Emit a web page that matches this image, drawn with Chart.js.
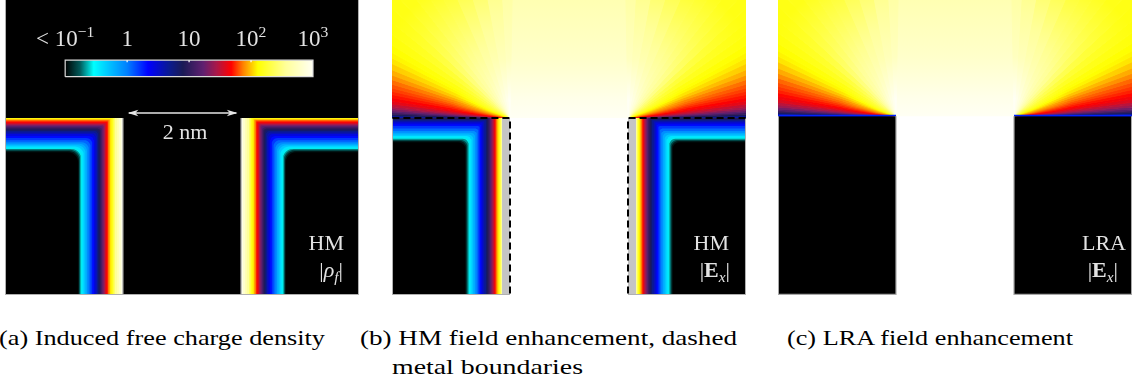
<!DOCTYPE html>
<html>
<head>
<meta charset="utf-8">
<script src="https://cdn.jsdelivr.net/npm/chart.js@4.4.1/dist/chart.umd.min.js"></script>
<style>
  body { margin: 0; width: 1134px; height: 383px; background: #fff; position: relative; overflow: hidden;
         font-family: "Liberation Serif", "Times New Roman", "DejaVu Serif", serif; }
  canvas { position: absolute; top: 0; }
  .t { position: absolute; white-space: nowrap; line-height: 1; color: #e2e2e2; font-size: 22px; }
  .t.big { font-size: 23px; }
  .t sup { font-size: 0.68em; vertical-align: 0; position: relative; top: -0.6em; }
  .t sub { font-size: 0.7em; vertical-align: 0; position: relative; top: 0.3em; }
  .cap { position: absolute; white-space: nowrap; line-height: 1; color: #000; font-size: 21px; transform-origin: 0 50%; }
</style>
</head>
<body>
<canvas id="panelA" width="354" height="295" style="left:5px"></canvas>
<canvas id="panelB" width="354" height="295" style="left:392px"></canvas>
<canvas id="panelC" width="354" height="295" style="left:778px"></canvas>
<script>
// colour scale of the figure (log10 of the field), black -> cyan -> blue -> red -> yellow -> white
const cmapLevels = [-1, -0.76, -0.54, -0.28, 0, 0.34, 0.68, 0.9, 1.23, 1.44, 1.68, 1.87, 2.11, 2.56, 3];
const cmapColors = ['#000000', '#005a5a', '#00ffff', '#00c0ff', '#0080ff', '#0000ff', '#0a1a90', '#1a1a55',
                    '#602070', '#a8184a', '#ff0000', '#ff8000', '#ffff00', '#ffff99', '#fffff4'];

const cbarTickLevels = [-1, 0, 1, 2, 3];
const cbarTickLabels = ['&lt; 10<sup>\u22121</sup>', '1', '10', '10<sup>2</sup>', '10<sup>3</sup>'];

// depth (nm) below the metal surface where each level is reached
const bandLevels = [3, 2.875, 2.75, 2.625, 2.5, 2.375, 2.25, 2.125, 2, 1.875, 1.75, 1.625, 1.5, 1.375, 1.25, 1.125, 1,
                    0.875, 0.75, 0.625, 0.5, 0.375, 0.25, 0.125, 0, -0.125, -0.25, -0.375, -0.5, -0.625, -0.75, -0.875, -1];
const rhoSideDepth = [0, 0.035, 0.07, 0.10, 0.135, 0.15, 0.17, 0.195, 0.22, 0.24, 0.255, 0.28, 0.305, 0.32, 0.34, 0.36, 0.38,
                      0.40, 0.42, 0.44, 0.465, 0.49, 0.52, 0.55, 0.58, 0.61, 0.635, 0.665, 0.695, 0.715, 0.73, 0.745, 0.76];
const rhoTopDepth  = [0, 0, 0, 0, 0, 0, 0, 0.01, 0.025, 0.04, 0.06, 0.08, 0.10, 0.118, 0.135, 0.158, 0.18,
                      0.20, 0.22, 0.245, 0.27, 0.305, 0.34, 0.375, 0.41, 0.435, 0.46, 0.485, 0.51, 0.525, 0.54, 0.56, 0.58];
const hmSideDepth  = [0.135, 0.135, 0.135, 0.138, 0.145, 0.157, 0.17, 0.19, 0.21, 0.228, 0.245, 0.262, 0.28, 0.30, 0.32, 0.342, 0.365,
                      0.385, 0.405, 0.432, 0.46, 0.485, 0.51, 0.535, 0.56, 0.59, 0.62, 0.65, 0.68, 0.70, 0.72, 0.738, 0.755];
const hmTopDepth   = [0, 0, 0, 0, 0, 0, 0, 0, 0, 0, 0, 0, 0, 0, 0, 0, 0,
                      0.015, 0.034, 0.055, 0.076, 0.105, 0.136, 0.178, 0.22, 0.25, 0.28, 0.305, 0.33, 0.352, 0.373, 0.39, 0.41];

// field above the metal, seen from each corner: angle from the surface (deg) and level at 3 radii (nm)
const fanAngles = [0, 0.75, 1.5, 2.25, 3, 4, 5, 6, 7.5, 9, 10.5, 12, 13.5, 15, 17, 19, 21, 23.5, 26, 28, 30,
                   33.5, 37, 41, 45, 49.5, 54, 58.5, 63, 69.5, 76, 83, 90];
const fanRadii = [0.3, 1.0, 2.5];
const hmFanInner = [0.5, 0.8, 1.05, 1.2, 1.35, 1.47, 1.58, 1.64, 1.72, 1.78, 1.83, 1.88, 1.93, 1.97, 2.02, 2.08, 2.12,
                    2.18, 2.24, 2.27, 2.3, 2.36, 2.42, 2.48, 2.55, 2.63, 2.7, 2.76, 2.82, 2.87, 2.92, 2.96, 3.0];
const hmFanMid   = [0.4, 0.7, 0.95, 1.1, 1.25, 1.37, 1.48, 1.55, 1.64, 1.69, 1.73, 1.77, 1.81, 1.85, 1.89, 1.95, 2.01,
                    2.06, 2.1, 2.13, 2.16, 2.22, 2.28, 2.36, 2.45, 2.51, 2.55, 2.58, 2.6, 2.64, 2.68, 2.72, 2.75];
const hmFanOuter = [0.3, 0.6, 0.85, 1.0, 1.15, 1.28, 1.4, 1.48, 1.58, 1.64, 1.69, 1.72, 1.75, 1.78, 1.82, 1.88, 1.94,
                    2.0, 2.05, 2.08, 2.1, 2.13, 2.15, 2.16, 2.17, 2.18, 2.2, 2.21, 2.22, 2.28, 2.35, 2.45, 2.55];
const lraFanInner = [0.4, 0.72, 1.0, 1.16, 1.32, 1.45, 1.56, 1.62, 1.7, 1.77, 1.82, 1.87, 1.92, 1.96, 2.01, 2.08, 2.12,
                     2.18, 2.24, 2.27, 2.3, 2.36, 2.42, 2.48, 2.55, 2.63, 2.7, 2.76, 2.82, 2.87, 2.92, 2.96, 3.0];
const lraFanMid   = [0.3, 0.62, 0.9, 1.06, 1.2, 1.34, 1.45, 1.53, 1.62, 1.68, 1.72, 1.76, 1.8, 1.84, 1.88, 1.94, 2.0,
                     2.06, 2.1, 2.13, 2.16, 2.22, 2.28, 2.36, 2.45, 2.51, 2.55, 2.58, 2.6, 2.64, 2.68, 2.72, 2.75];
const lraFanOuter = [0.25, 0.55, 0.8, 0.97, 1.12, 1.26, 1.38, 1.46, 1.56, 1.62, 1.67, 1.71, 1.74, 1.77, 1.81, 1.87, 1.93,
                     1.99, 2.05, 2.08, 2.1, 2.13, 2.15, 2.16, 2.17, 2.18, 2.2, 2.21, 2.22, 2.28, 2.35, 2.45, 2.55];

// straight above the gap: height (nm) and level
const centerHeights = [0, 0.3, 1.0, 2.0];
const hmCenterLevels = [3, 2.95, 2.8, 2.68];
const lraCenterLevels = [3, 2.95, 2.8, 2.68];

const captions = ['(a) Induced free charge density', '(b) HM field enhancement, dashed', 'metal boundaries', '(c) LRA field enhancement'];

const cmapRGB = cmapColors.map(h => [1, 3, 5].map(i => parseInt(h.substr(i, 2), 16)));
function cmap(v) {
  const n = cmapLevels.length;
  if (v <= cmapLevels[0]) return cmapColors[0];
  if (v >= cmapLevels[n - 1]) return cmapColors[n - 1];
  let i = 0;
  while (v > cmapLevels[i + 1]) i++;
  const f = (v - cmapLevels[i]) / (cmapLevels[i + 1] - cmapLevels[i]);
  const a = cmapRGB[i], b = cmapRGB[i + 1];
  return 'rgb(' + [0, 1, 2].map(k => Math.round(a[k] + (b[k] - a[k]) * f)).join(',') + ')';
}

function shape(pts, color, extra) {
  const closed = pts.concat([pts[0]]);
  return Object.assign({
    data: closed.map(p => ({x: p[0], y: p[1]})),
    fill: 'shape', backgroundColor: color, borderWidth: 0, pointRadius: 0, tension: 0
  }, extra || {});
}
function path(pts, color, width, dash) {
  return {
    data: pts.map(p => ({x: p[0], y: p[1]})),
    fill: false, borderColor: color, borderWidth: width, borderDash: dash || [], pointRadius: 0, tension: 0
  };
}

// region between metal surface and the contour of one level (left block, mirrored for the right one)
function bandPts(sg, t, s) {
  const rc = 0.3 * Math.min(t, s);
  const pts = [[-3.3, 0], [-1, 0], [-1, -3.3], [-1 - s, -3.3]];
  const cx = -1 - s - rc, cy = -t - rc;
  for (let k = 0; k <= 6; k++) {
    const a = Math.PI / 2 * k / 6;
    pts.push([cx + rc * Math.cos(a), cy + rc * Math.sin(a)]);
  }
  pts.push([-3.3, -t]);
  return pts.map(([x, y]) => [sg < 0 ? x : -x, y]);
}
function bandSets(sideDepth, topDepth) {
  const out = [];
  for (let k = bandLevels.length - 1; k >= 1; k--) {
    const col = cmap((bandLevels[k - 1] + bandLevels[k]) / 2);
    [-1, 1].forEach(sg => out.push(shape(bandPts(sg, topDepth[k], sideDepth[k]), col)));
  }
  return out;
}

const RR = 4;
function fanGradient(chart, cx, lv) {
  const xs = chart.scales.x, ys = chart.scales.y;
  const px = xs.getPixelForValue(cx), py = ys.getPixelForValue(0);
  const unit = xs.getPixelForValue(1) - xs.getPixelForValue(0);
  const g = chart.ctx.createRadialGradient(px, py, 0, px, py, RR * unit);
  g.addColorStop(0, cmap(lv[0]));
  for (let j = 0; j < fanRadii.length - 1; j++) {
    for (let k = 0; k <= 6; k++) {
      const f = k / 6;
      const r = fanRadii[j] + (fanRadii[j + 1] - fanRadii[j]) * f;
      g.addColorStop(r / RR, cmap(lv[j] + (lv[j + 1] - lv[j]) * f));
    }
  }
  g.addColorStop(1, cmap(lv[lv.length - 1]));
  return g;
}
function fanSets(cx, sg, rows) {
  const out = [];
  const n = fanAngles.length;
  for (let i = 0; i < n; i++) {
    const a0 = i === 0 ? -1 : (fanAngles[i - 1] + fanAngles[i]) / 2;
    const a1 = i === n - 1 ? 91 : (fanAngles[i] + fanAngles[i + 1]) / 2;
    const p = a => [cx + sg * RR * Math.cos(a * Math.PI / 180), RR * Math.sin(a * Math.PI / 180)];
    const lv = rows.map(r => r[i]);
    const grad = c => c.chart.chartArea ? fanGradient(c.chart, cx, lv) : 'white';
    out.push(shape([[cx, 0], p(a0), p(a1)], grad, {borderColor: grad, borderWidth: 1}));
  }
  return out;
}
function centerSet(levels) {
  const grad = c => {
    const chart = c.chart;
    if (!chart.chartArea) return 'white';
    const ys = chart.scales.y;
    const top = centerHeights[centerHeights.length - 1];
    const g = chart.ctx.createLinearGradient(0, ys.getPixelForValue(0), 0, ys.getPixelForValue(top));
    for (let j = 0; j < centerHeights.length - 1; j++) {
      for (let k = 0; k <= 4; k++) {
        const f = k / 4;
        const h = centerHeights[j] + (centerHeights[j + 1] - centerHeights[j]) * f;
        g.addColorStop(h / top, cmap(levels[j] + (levels[j + 1] - levels[j]) * f));
      }
    }
    return g;
  };
  return shape([[-1, 0], [1, 0], [1, 2.3], [-1, 2.3]], grad);
}

const metalLeft = [[-3.3, -3.3], [-1, -3.3], [-1, 0], [-3.3, 0]];
const metalRight = [[3.3, -3.3], [1, -3.3], [1, 0], [3.3, 0]];

// colour bar geometry inside panel (a)
const cbarX0 = -1.98, cbarX1 = 2.22, cbarY0 = 0.70, cbarY1 = 0.98;
const cbarX = lv => cbarX0 + (lv + 1) / 4 * (cbarX1 - cbarX0);

function makeChart(id, layers, ymin, ymax) {
  return new Chart(document.getElementById(id), {
    type: 'line',
    data: {datasets: layers.slice().reverse()},
    options: {
      responsive: false, animation: false, devicePixelRatio: 1, events: [],
      layout: {padding: 0},
      scales: {
        x: {type: 'linear', min: -3, max: 3, display: false},
        y: {type: 'linear', min: ymin, max: ymax, display: false}
      },
      plugins: {legend: {display: false}, tooltip: {enabled: false}}
    }
  });
}

// panel (a): induced charge density
const cbarGrad = c => {
  const chart = c.chart;
  if (!chart.chartArea) return 'black';
  const xs = chart.scales.x;
  const g = chart.ctx.createLinearGradient(xs.getPixelForValue(cbarX0), 0, xs.getPixelForValue(cbarX1), 0);
  cmapLevels.forEach((lv, i) => g.addColorStop((lv + 1) / 4, cmapColors[i]));
  return g;
};
const layersA = [shape([[-3.3, -3.3], [3.3, -3.3], [3.3, 2.3], [-3.3, 2.3]], '#000')]
  .concat(bandSets(rhoSideDepth, rhoTopDepth))
  .concat([
    path([[-1, 0], [-1, -3]], '#9a9a9a', 1.2),
    path([[1, 0], [1, -3]], '#9a9a9a', 1.2),
    path([[-2.993, 2], [-2.993, -2.993], [2.993, -2.993], [2.993, 2]], '#b0b0b0', 1.2),
    shape([[cbarX0, cbarY0], [cbarX1, cbarY0], [cbarX1, cbarY1], [cbarX0, cbarY1]], cbarGrad,
          {borderColor: '#dcdcdc', borderWidth: 1.2}),
    path([[-0.9, 0.085], [0.92, 0.085]], '#e6e6e6', 1.3),
    shape([[-0.92, 0.085], [-0.74, 0.14], [-0.79, 0.085], [-0.74, 0.03]], '#e6e6e6'),
    shape([[0.94, 0.085], [0.76, 0.14], [0.81, 0.085], [0.76, 0.03]], '#e6e6e6')
  ])
  .concat([0, 1, 2].map(lv => path([[cbarX(lv), cbarY1], [cbarX(lv), cbarY1 - 0.035]], '#ffffff', 1.2)));
const chartA = makeChart('panelA', layersA, -3, 2);

// panel (b): hydrodynamic model field
const layersB = [shape([[-3.3, -3.3], [3.3, -3.3], [3.3, 2.3], [-3.3, 2.3]], '#fff'), centerSet(hmCenterLevels)]
  .concat(fanSets(-1, -1, [hmFanInner, hmFanMid, hmFanOuter]))
  .concat(fanSets(1, 1, [hmFanInner, hmFanMid, hmFanOuter]))
  .concat([shape(metalLeft, '#000'), shape(metalRight, '#000')])
  .concat(bandSets(hmSideDepth, hmTopDepth))
  .concat([
    shape([[-1.135, -3.3], [-1, -3.3], [-1, 0], [-1.135, 0]], '#c4c4c4'),
    shape([[1.135, -3.3], [1, -3.3], [1, 0], [1.135, 0]], '#c4c4c4'),
    path([[-2.993, 0], [-2.993, -2.993], [-1, -2.993]], '#b0b0b0', 1.2),
    path([[1, -2.993], [2.993, -2.993], [2.993, 0]], '#b0b0b0', 1.2),
    path([[-2.993, 0], [-1, 0], [-1, -3]], '#000', 2, [7, 4]),
    path([[2.993, 0], [1, 0], [1, -3]], '#000', 2, [7, 4])
  ]);
const chartB = makeChart('panelB', layersB, -3, 2);

// panel (c): local response field
const layersC = [shape([[-3.3, -3.3], [3.3, -3.3], [3.3, 2.3], [-3.3, 2.3]], '#fff'), centerSet(lraCenterLevels)]
  .concat(fanSets(-1, -1, [lraFanInner, lraFanMid, lraFanOuter]))
  .concat(fanSets(1, 1, [lraFanInner, lraFanMid, lraFanOuter]))
  .concat([
    shape(metalLeft, '#000'), shape(metalRight, '#000'),
    path([[-2.993, 0.012], [-1, 0.012]], cmap(lraFanOuter[0]), 1.6),
    path([[1, 0.012], [2.993, 0.012]], cmap(lraFanOuter[0]), 1.6),
    path([[-2.993, 0], [-2.993, -3.02], [-1, -3.02], [-1, 0]], '#a8a8a8', 1.2),
    path([[1, 0], [1, -3.02], [2.993, -3.02], [2.993, 0]], '#a8a8a8', 1.2)
  ]);
const chartC = makeChart('panelC', layersC, -3.03, 1.97);

// text
function addText(html, cls, x, y, align) {
  const el = document.createElement('div');
  el.className = cls;
  el.innerHTML = html;
  el.style.left = x + 'px';
  el.style.top = y + 'px';
  const tx = align === 'center' ? '-50%' : align === 'right' ? '-100%' : '0';
  el.style.transform = 'translate(' + tx + ',-50%)';
  document.body.appendChild(el);
  return el;
}
const leftA = 5, leftB = 392, leftC = 778;
cbarTickLevels.forEach((lv, i) => {
  addText(cbarTickLabels[i], 't big', leftA + chartA.scales.x.getPixelForValue(cbarX(lv)), 38, 'center');
});
addText('2 nm', 't', leftA + chartA.scales.x.getPixelForValue(0.05), 132, 'center');
addText('HM', 't', 344, 243, 'right');
addText('|<i>\u03c1</i><sub><i>f</i></sub>|', 't', 343, 270, 'right');
addText('HM', 't', 729, 243, 'right');
addText('|<b>E</b><sub><i>x</i></sub>|', 't', 730, 270, 'right');
addText('LRA', 't', 1126, 243, 'right');
addText('|<b>E</b><sub><i>x</i></sub>|', 't', 1118, 270, 'right');

function fitCaption(txt, x, y, width) {
  const el = addText(txt, 'cap', x, y, 'left');
  const w = el.getBoundingClientRect().width;
  el.style.transform = 'translate(0,-50%) scaleX(' + (width / w) + ')';
}
fitCaption(captions[0], -1, 338, 326);
fitCaption(captions[1], 360, 338, 377);
fitCaption(captions[2], 392, 367, 191);
fitCaption(captions[3], 787, 338, 286);
</script>
</body>
</html>
